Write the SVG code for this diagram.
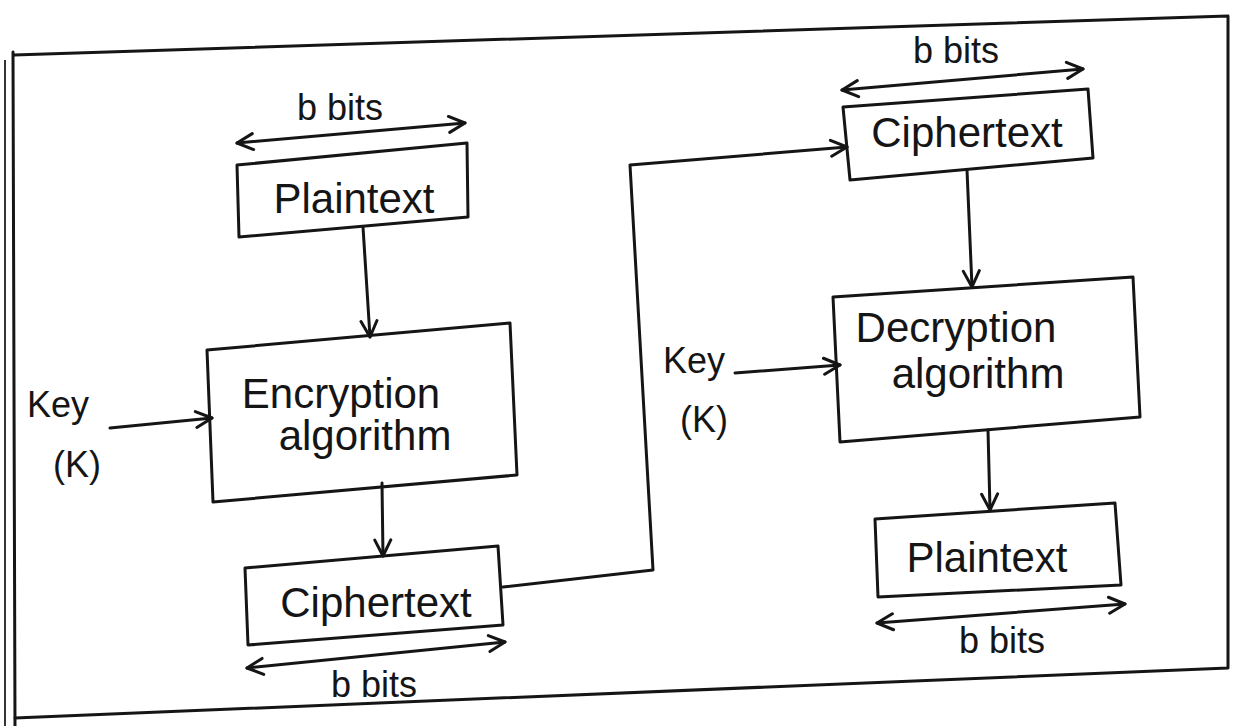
<svg xmlns="http://www.w3.org/2000/svg" width="1236" height="726" viewBox="0 0 1236 726">
<style>
.ln{fill:none;stroke:#151515;stroke-width:3;stroke-linecap:round;stroke-linejoin:round}
.bx{fill:none;stroke:#151515;stroke-width:3;stroke-linejoin:round}
.t{font-family:"Liberation Sans",Arial,sans-serif;font-size:42px;fill:#151515;text-anchor:middle}
.s{font-family:"Liberation Sans",Arial,sans-serif;font-size:36px;fill:#151515;text-anchor:middle}
</style>
<defs>
<marker id="ah" viewBox="0 0 20 20" refX="18" refY="10" markerWidth="20" markerHeight="20" markerUnits="userSpaceOnUse" orient="auto-start-reverse">
<path d="M2,2 L18,10 L2,18" fill="none" stroke="#151515" stroke-width="3" stroke-linecap="round" stroke-linejoin="round"/>
</marker>
</defs>
<rect width="1236" height="726" fill="#ffffff"/>
<g id="frame">
<path class="ln" d="M14,55 L1228,16 L1228,668 L15,718"/>
<line class="ln" x1="13" y1="52" x2="15" y2="726"/>
<line x1="5" y1="60" x2="5" y2="726" stroke="#333" stroke-width="2"/>
</g>
<g id="connectors">
<line class="ln" x1="363" y1="227" x2="370" y2="337" marker-end="url(#ah)"/>
<line class="ln" x1="110" y1="428" x2="212" y2="418" marker-end="url(#ah)"/>
<line class="ln" x1="382" y1="483" x2="383" y2="556" marker-end="url(#ah)"/>
<path class="ln" d="M503,587 L653,570 L630,165 L847,147" marker-end="url(#ah)"/>
<line class="ln" x1="967" y1="170" x2="972" y2="287" marker-end="url(#ah)"/>
<line class="ln" x1="735" y1="373" x2="840" y2="365" marker-end="url(#ah)"/>
<line class="ln" x1="988" y1="430" x2="990" y2="510" marker-end="url(#ah)"/>
</g>
<g id="enc-bbits">
<line class="ln" x1="237" y1="143" x2="465" y2="123" marker-start="url(#ah)" marker-end="url(#ah)"/>
<text class="s" x="340" y="120">b bits</text>
</g>
<g id="plaintext-in">
<polygon class="bx" points="237,165 467,143 468,217 239,237"/>
<text class="t" x="354" y="213">Plaintext</text>
</g>
<g id="encryption">
<polygon class="bx" points="207,350 510,323 517,475 213,502"/>
<text class="t" x="341" y="408">Encryption</text>
<text class="t" x="365" y="450">algorithm</text>
</g>
<g id="key-enc">
<text class="s" x="58" y="417" font-size="34">Key</text>
<text class="s" x="77" y="477" font-size="34">(K)</text>
</g>
<g id="ciphertext-out">
<polygon class="bx" points="245,568 498,546 503,625 248,645"/>
<text class="t" x="376" y="617" font-size="44">Ciphertext</text>
<line class="ln" x1="247" y1="668" x2="505" y2="642" marker-start="url(#ah)" marker-end="url(#ah)"/>
<text class="s" x="374" y="697">b bits</text>
</g>
<g id="dec-bbits">
<line class="ln" x1="842" y1="90" x2="1083" y2="69" marker-start="url(#ah)" marker-end="url(#ah)"/>
<text class="s" x="956" y="63">b bits</text>
</g>
<g id="ciphertext-in">
<polygon class="bx" points="843,107 1088,89 1093,158 850,180"/>
<text class="t" x="967" y="147">Ciphertext</text>
</g>
<g id="decryption">
<polygon class="bx" points="833,297 1133,277 1140,417 840,442"/>
<text class="t" x="956" y="342">Decryption</text>
<text class="t" x="978" y="388">algorithm</text>
</g>
<g id="key-dec">
<text class="s" x="694" y="373" font-size="34">Key</text>
<text class="s" x="704" y="432" font-size="34">(K)</text>
</g>
<g id="plaintext-out">
<polygon class="bx" points="875,519 1115,503 1121,585 878,597"/>
<text class="t" x="987" y="572">Plaintext</text>
<line class="ln" x1="877" y1="623" x2="1125" y2="604" marker-start="url(#ah)" marker-end="url(#ah)"/>
<text class="s" x="1002" y="653">b bits</text>
</g>
</svg>
